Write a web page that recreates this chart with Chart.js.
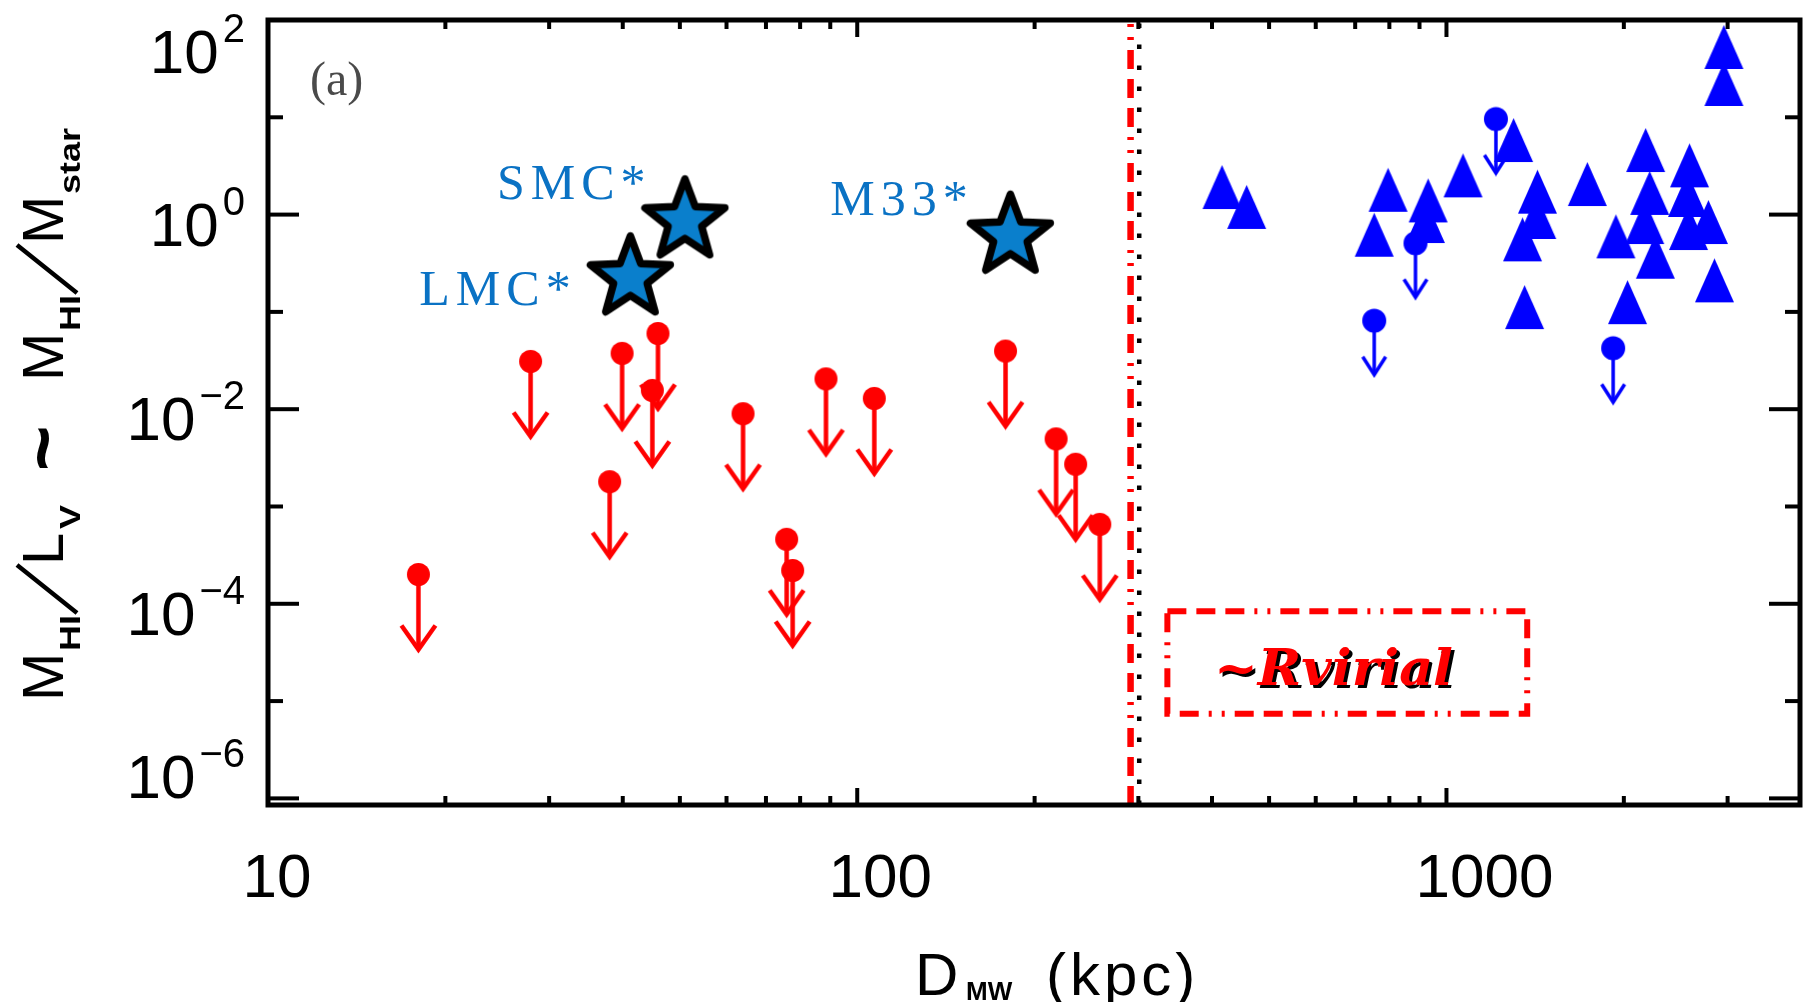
<!DOCTYPE html>
<html>
<head>
<meta charset="utf-8">
<script src="https://cdn.jsdelivr.net/npm/chart.js@4.4.0/dist/chart.umd.min.js"></script>
<style>
  html, body { margin: 0; padding: 0; background: #fff; }
  canvas { display: block; }
</style>
</head>
<body>
<canvas id="hi-chart" width="1811" height="1002"></canvas>
<script>
// axis ranges and ticks
const xRange = [10, 3981];
const yRange = [8.55e-7, 100];
const xMajorTicks = [10, 100, 1000];
const xMinorTicks = [20, 30, 40, 50, 60, 70, 80, 90, 200, 300, 400, 500, 600, 700, 800, 900, 2000, 3000];
const xTickLabels = ['10', '100', '1000'];
const yMajorTicks = [1e2, 1e0, 1e-2, 1e-4, 1e-6];
const yMinorTicks = [1e1, 1e-1, 1e-3, 1e-5];
const yTickExponents = ['2', '0', '\u22122', '\u22124', '\u22126'];

// red upper limits (satellites inside ~Rvirial)
const redLimitD = [18.0, 27.9, 38.0, 39.9, 44.9, 45.9, 64.0, 75.9, 77.7, 88.5, 106.9, 178.5, 217.5, 234.8, 258.0];
const redLimitV = [2.0e-4, 0.031, 1.8e-3, 0.0375, 0.0156, 0.060, 9.0e-3, 4.6e-4, 2.2e-4, 0.0205, 0.0129, 0.0396, 4.96e-3, 2.72e-3, 6.55e-4];

// blue detections (triangles)
const blueDetD = [416, 458, 754, 796, 921, 931, 1067, 1300, 1346, 1357, 1423, 1427, 1734, 1939, 2029, 2170, 2178, 2213, 2262, 2565, 2575, 2585, 2783, 2850, 2957, 2957];
const blueDetV = [1.92, 1.20, 0.621, 1.80, 0.859, 1.40, 2.53, 5.84, 0.557, 0.112, 0.945, 1.72, 2.06, 0.598, 0.126, 0.839, 4.61, 1.67, 0.369, 1.59, 0.728, 3.21, 0.839, 0.211, 52.8, 22.0];

// blue upper limits
const blueLimitD = [754, 886, 1213, 1918];
const blueLimitV = [0.0812, 0.507, 9.60, 0.0423];

// named galaxies (stars)
const starNames = ['LMC*', 'SMC*', 'M33*'];
const starD = [41.2, 51.0, 181.9];
const starV = [0.224, 0.862, 0.600];

// virial radius lines and label box
const rVirialRed = 291;
const rVirialDotted = 301;
const boxD = [336, 1371];
const boxV = [8.4e-5, 7.4e-6];
const boxLabel = '~Rvirial';
const boxLabelAt = [643, 2.24e-5];

// label placement relative to each star (px)
const starLabelOffsets = [[-211, 27], [-188, -22], [-180, -21]];

const toPoints = (xs, ys) => xs.map((x, i) => ({ x: x, y: ys[i] }));

// marker images
function makeCanvas(w, h) {
  const c = document.createElement('canvas');
  c.width = w; c.height = h;
  return c;
}

function limitMarker(color, r, len, headW, headH, lw) {
  const w = Math.ceil(headW * 2 + lw * 2 + 4), h = Math.ceil(len * 2 + lw * 2);
  const c = makeCanvas(w, h), g = c.getContext('2d');
  const cx = w / 2, cy = h / 2, tip = cy + len;
  g.fillStyle = color; g.strokeStyle = color; g.lineWidth = lw; g.lineCap = 'butt';
  g.beginPath(); g.arc(cx, cy, r, 0, Math.PI * 2); g.fill();
  g.beginPath(); g.moveTo(cx, cy); g.lineTo(cx, tip - 2); g.stroke();
  g.beginPath(); g.moveTo(cx - headW, tip - headH); g.lineTo(cx, tip); g.lineTo(cx + headW, tip - headH); g.stroke();
  return c;
}

function triangleMarker(color, w, h) {
  const c = makeCanvas(w + 2, h + 2), g = c.getContext('2d');
  g.fillStyle = color;
  g.beginPath(); g.moveTo(1 + w / 2, 1); g.lineTo(1 + w, 1 + h); g.lineTo(1, 1 + h); g.closePath(); g.fill();
  return c;
}

function starMarker(fill, R, ratio, lw) {
  const size = Math.ceil(2 * R + 2 * lw + 4);
  const c = makeCanvas(size, size), g = c.getContext('2d');
  const cx = size / 2, cy = size / 2;
  g.beginPath();
  for (let i = 0; i < 10; i++) {
    const rr = i % 2 === 0 ? R : R * ratio;
    const a = -Math.PI / 2 + i * Math.PI / 5;
    const px = cx + rr * Math.cos(a), py = cy + rr * Math.sin(a);
    if (i === 0) g.moveTo(px, py); else g.lineTo(px, py);
  }
  g.closePath();
  g.fillStyle = fill; g.fill();
  g.lineWidth = lw; g.lineJoin = 'round'; g.strokeStyle = '#000'; g.stroke();
  return c;
}

const redLimitImg = limitMarker('#ff0000', 11.5, 75, 17, 24, 4.5);
const blueLimitImg = limitMarker('#0000ff', 12, 54, 11.5, 18, 3.5);
const triangleImg = triangleMarker('#0000ff', 39, 44);
const starImg = starMarker('#0a7fcc', 42, 0.42, 7.5);

const dashDotDot = [19, 10, 19, 10, 19, 10, 3, 10, 3, 10];

// frame, ticks, tick labels, titles and annotations
const decorations = {
  id: 'decorations',
  afterDatasetsDraw(chart) {
    const { ctx, scales: { x, y } } = chart;
    ctx.save();
    // star labels
    ctx.font = '50px "Liberation Serif"';
    ctx.letterSpacing = '6px';
    ctx.fillStyle = '#0a72c4';
    ctx.textAlign = 'left';
    ctx.textBaseline = 'alphabetic';
    starNames.forEach((name, i) => {
      const px = x.getPixelForValue(starD[i]), py = y.getPixelForValue(starV[i]);
      ctx.fillText(name, px + starLabelOffsets[i][0], py + starLabelOffsets[i][1]);
    });
    ctx.letterSpacing = '0px';

    // ~Rvirial label with shadow
    const lx = x.getPixelForValue(boxLabelAt[0]), ly = y.getPixelForValue(boxLabelAt[1]);
    ctx.font = 'bold italic 50px "DejaVu Serif"';
    const mw = ctx.measureText(boxLabel).width;
    const sx = 239 / mw;
    ctx.save();
    ctx.translate(lx, ly + 18);
    ctx.scale(sx, 1);
    ctx.textAlign = 'center';
    ctx.fillStyle = '#000';
    ctx.fillText(boxLabel, 3, 3);
    ctx.fillStyle = '#ff0000';
    ctx.fillText(boxLabel, 0, 0);
    ctx.restore();

    // panel tag
    ctx.font = '48px "Liberation Serif"';
    ctx.fillStyle = '#4a4a4a';
    ctx.textAlign = 'left';
    ctx.fillText('(a)', chart.chartArea.left + 42, 95);
    ctx.restore();
  },
  afterDraw(chart) {
    const { ctx, chartArea: a, scales: { x, y } } = chart;
    ctx.save();
    ctx.strokeStyle = '#000';
    ctx.lineWidth = 5;
    ctx.strokeRect(a.left, a.top, a.right - a.left, a.bottom - a.top);

    const seg = (x1, y1, x2, y2) => { ctx.beginPath(); ctx.moveTo(x1, y1); ctx.lineTo(x2, y2); ctx.stroke(); };
    ctx.lineWidth = 4;
    xMajorTicks.forEach(v => { const p = x.getPixelForValue(v); seg(p, a.bottom, p, a.bottom - 17); seg(p, a.top, p, a.top + 17); });
    xMinorTicks.forEach(v => { const p = x.getPixelForValue(v); seg(p, a.bottom, p, a.bottom - 9); seg(p, a.top, p, a.top + 9); });
    yMajorTicks.forEach(v => { const p = y.getPixelForValue(v); seg(a.left, p, a.left + 31, p); seg(a.right, p, a.right - 31, p); });
    yMinorTicks.forEach(v => { const p = y.getPixelForValue(v); seg(a.left, p, a.left + 15, p); seg(a.right, p, a.right - 15, p); });

    ctx.fillStyle = '#000';
    ctx.textBaseline = 'alphabetic';
    // y tick labels 10^n
    yMajorTicks.forEach((v, i) => {
      const p = y.getPixelForValue(v);
      const c = Math.min(Math.max(p + 9, 51), 776);
      const base = c + 22;
      ctx.font = '40px "Liberation Sans"';
      ctx.textAlign = 'right';
      const ew = ctx.measureText(yTickExponents[i]).width;
      ctx.fillText(yTickExponents[i], 245, base - 31);
      ctx.font = '62px "Liberation Sans"';
      ctx.fillText('10', 245 - ew - 4, base);
    });
    // x tick labels
    const xLabelShift = [9, 23, 38];
    ctx.font = '62px "Liberation Sans"';
    ctx.textAlign = 'center';
    xMajorTicks.forEach((v, i) => {
      ctx.fillText(xTickLabels[i], x.getPixelForValue(v) + xLabelShift[i], 897);
    });

    // x axis title: D_MW (kpc)
    ctx.textAlign = 'left';
    ctx.font = '60px "Liberation Sans"';
    ctx.fillText('D', 915, 995);
    ctx.font = 'bold 26px "Liberation Sans"';
    ctx.fillText('MW', 966, 1000);
    ctx.font = '60px "Liberation Sans"';
    ctx.letterSpacing = '4px';
    ctx.fillText('(kpc)', 1046, 995);
    ctx.letterSpacing = '0px';

    // y axis title: M_HI/L_V ~ M_HI/M_star (rotated)
    ctx.translate(63, 697);
    ctx.rotate(-Math.PI / 2);
    const parts = [
      { t: 'M', s: -4 }, { t: 'HI', s: 46, sub: true }, { slash: true, s: 84 },
      { t: 'L', s: 132 }, { t: 'V', s: 168, sub: true }, { t: '~', s: 226, big: true },
      { t: 'M', s: 316 }, { t: 'HI', s: 366, sub: true }, { slash: true, s: 404 },
      { t: 'M', s: 453 }, { t: 'star', s: 503, sub: true }
    ];
    ctx.lineWidth = 4.5;
    ctx.lineCap = 'butt';
    parts.forEach(pt => {
      if (pt.slash) { seg(pt.s, 14, pt.s + 48, -46); return; }
      if (pt.sub) {
        ctx.font = 'bold 30px "Liberation Sans"';
        ctx.save(); ctx.translate(pt.s, 17); ctx.scale(1.2, 1); ctx.fillText(pt.t, 0, 0); ctx.restore();
      } else if (pt.big) {
        ctx.font = 'bold 78px "Liberation Sans"';
        ctx.fillText(pt.t, pt.s, 6);
      } else {
        ctx.font = '58px "Liberation Sans"';
        ctx.fillText(pt.t, pt.s, 0);
      }
    });
    ctx.restore();
  }
};

const ctx = document.getElementById('hi-chart').getContext('2d');
new Chart(ctx, {
  type: 'scatter',
  data: {
    datasets: [
      { data: toPoints(starD, starV), pointStyle: starImg, pointRadius: 10 },
      { data: toPoints(redLimitD, redLimitV), pointStyle: redLimitImg, pointRadius: 10 },
      { data: toPoints(blueLimitD, blueLimitV), pointStyle: blueLimitImg, pointRadius: 10 },
      { data: toPoints(blueDetD, blueDetV), pointStyle: triangleImg, pointRadius: 10 },
      {
        type: 'line',
        data: [{ x: boxD[0], y: boxV[0] }, { x: boxD[1], y: boxV[0] }, { x: boxD[1], y: boxV[1] }, { x: boxD[0], y: boxV[1] }, { x: boxD[0], y: boxV[0] }],
        borderColor: '#ff0000', borderWidth: 6, borderDash: dashDotDot, pointRadius: 0, fill: false, tension: 0
      },
      {
        type: 'line',
        data: [{ x: rVirialDotted, y: yRange[0] }, { x: rVirialDotted, y: yRange[1] }],
        borderColor: '#000', borderWidth: 4.5, borderDash: [4.5, 16.5], pointRadius: 0, fill: false
      },
      {
        type: 'line',
        data: [{ x: rVirialRed, y: yRange[0] }, { x: rVirialRed, y: yRange[1] }],
        borderColor: '#ff0000', borderWidth: 6.5, borderDash: dashDotDot, pointRadius: 0, fill: false
      }
    ]
  },
  options: {
    responsive: false,
    animation: false,
    devicePixelRatio: 1,
    events: [],
    layout: { padding: { top: 20, right: 5, left: 0, bottom: 0 } },
    plugins: { legend: { display: false }, tooltip: { enabled: false } },
    scales: {
      x: {
        type: 'logarithmic', min: xRange[0], max: xRange[1],
        grid: { display: false }, border: { display: false }, ticks: { display: false },
        afterFit(s) { s.height = 197; }
      },
      y: {
        type: 'logarithmic', min: yRange[0], max: yRange[1],
        grid: { display: false }, border: { display: false }, ticks: { display: false },
        afterFit(s) { s.width = 268; }
      }
    }
  },
  plugins: [decorations]
});
</script>
</body>
</html>
